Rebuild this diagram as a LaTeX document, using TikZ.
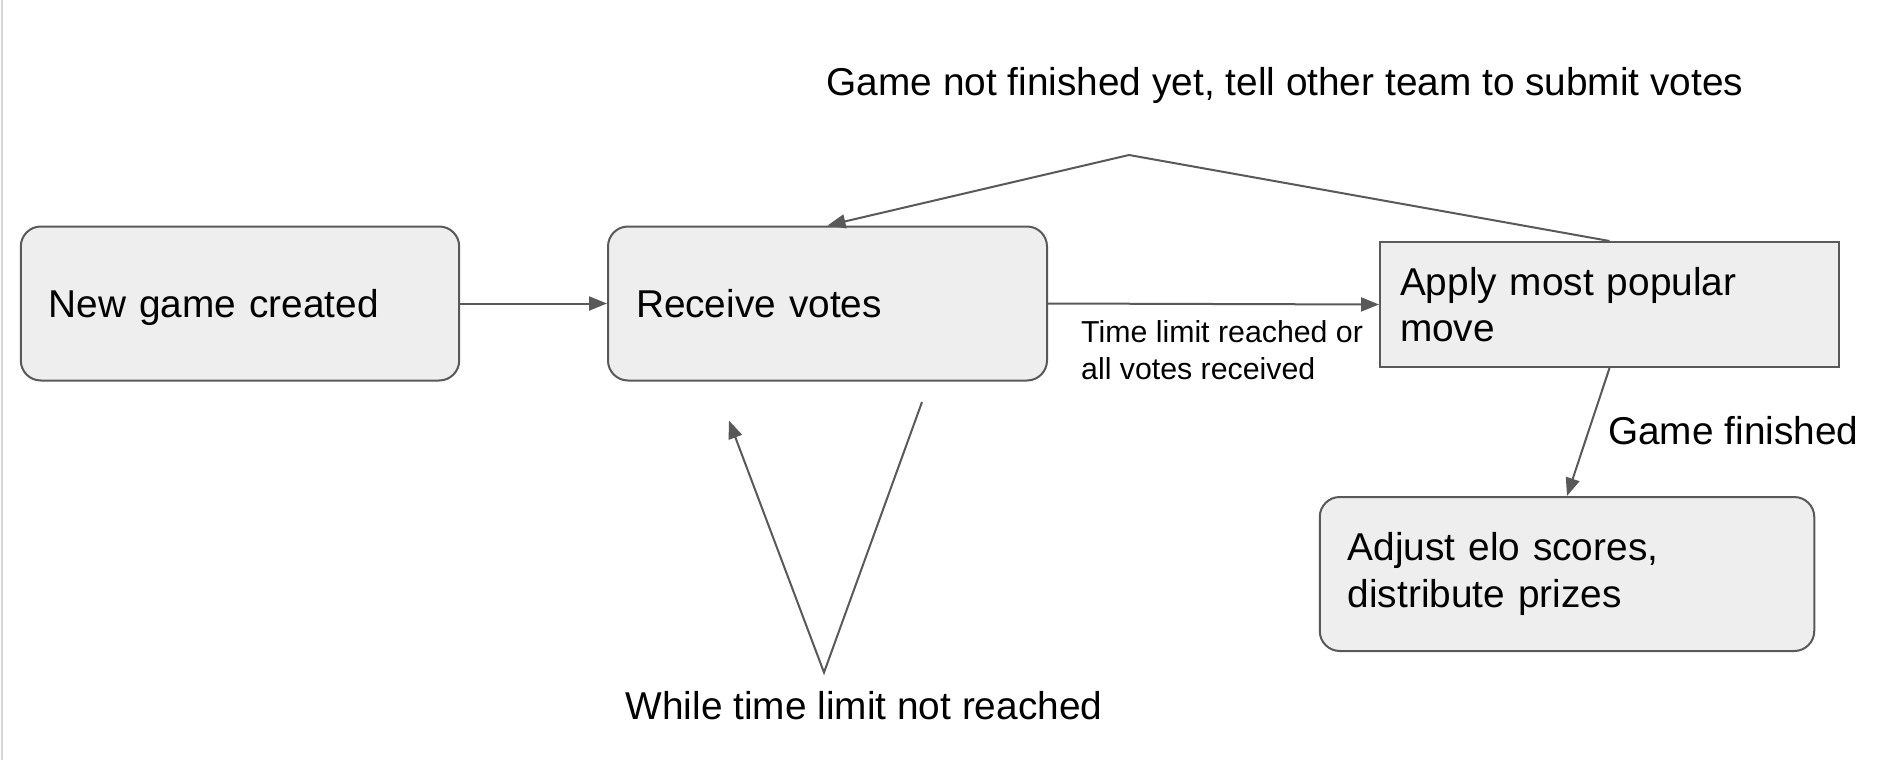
\documentclass[tikz,border=0pt]{standalone}
\usepackage{fontspec}
\setmainfont{Liberation Sans}
\usetikzlibrary{arrows.meta}
\definecolor{linegray}{HTML}{595959}
\definecolor{boxfill}{HTML}{EEEEEE}
\definecolor{edgegray}{HTML}{D6D6D6}
\tikzset{
  bigtext/.style={font=\fontsize{38.8}{46.5}\selectfont},
  smalltext/.style={font=\fontsize{30.3}{36.4}\selectfont},
  flowbox/.style={draw=linegray, line width=2pt, fill=boxfill, bigtext,
    inner xsep=28pt, inner ysep=0pt, align=left, anchor=center},
  roundbox/.style={flowbox, rounded corners=20pt},
  conn/.style={draw=linegray, line width=2pt},
  arr/.style={conn, -{Triangle[length=18pt,width=14pt]}},
  lbl/.style={inner sep=0pt, align=left}
}
\begin{document}
\begin{tikzpicture}[x=1pt,y=-1pt]
\useasboundingbox (0,0) rectangle (1900,760);
\fill[white] (0,0) rectangle (1900,760);
\draw[edgegray, line width=2.5pt] (2,0) -- (2,760);

\node[roundbox, text depth=0pt, minimum width=438.4pt, minimum height=154pt, text width=382.4pt] (b1) at (240,303.5) {New game created};
\node[roundbox, minimum width=439pt, minimum height=154pt, text width=383pt] (b2) at (827.5,303.5) {Receive votes};
\node[flowbox, inner xsep=20pt, minimum width=459pt, minimum height=125pt, text width=419pt] (b3) at (1609.5,304.5) {Apply most popular\\move};
\node[roundbox, minimum width=494.5pt, minimum height=154pt, text width=438.5pt] (b4) at (1567,574) {Adjust elo scores,\\distribute prizes};

\node[lbl, bigtext] (ltop) at (1285,85) {Game not finished yet, tell other team to submit votes};
\node[lbl, smalltext, anchor=west] (lmid) at (1081,350) {Time limit reached or\\all votes received};
\node[lbl, bigtext, anchor=west] (lfin) at (1608,431) {Game finished};
\node[lbl, bigtext] (lwhile) at (864,706) {While time limit not reached};

\coordinate (apex) at (1129,155);
\coordinate (vapex) at (824,672.5);
\coordinate (vtip) at (729,420.5);
\coordinate (vend) at (922,402);

\draw[arr] (b1.east) -- (b2.west);
\draw[arr] (b2.east) -- (b3.west);
\draw[arr] (b3.north) -- (apex) -- (b2.north);
\draw[arr] (b3.south) -- (b4.north);
\draw[arr] (vend) -- (vapex) -- (vtip);
\end{tikzpicture}
\end{document}
